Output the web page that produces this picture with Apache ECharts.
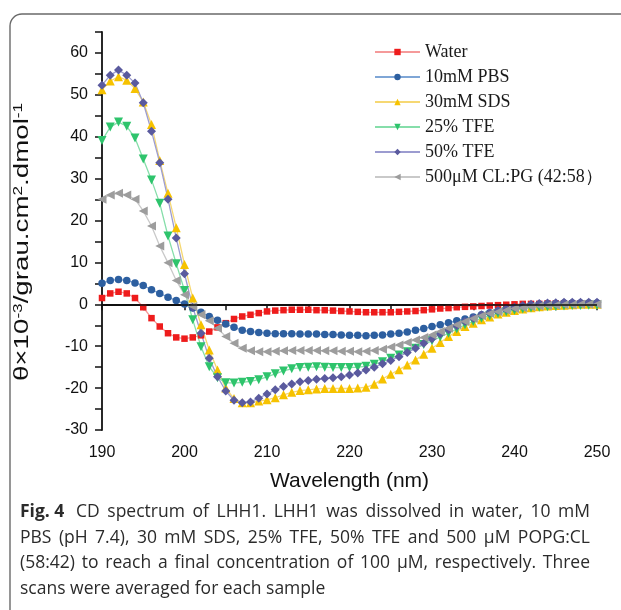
<!DOCTYPE html>
<html>
<head>
<meta charset="utf-8">
<script src="https://cdn.jsdelivr.net/npm/echarts@6/dist/echarts.min.js"></script>
<style>
  html, body { margin: 0; padding: 0; background: #fff; }
  #chart { width: 621px; height: 610px; }
</style>
</head>
<body>
<div id="chart"></div>
<script>
// wavelength (nm), 1 nm steps
const wavelength = [190,191,192,193,194,195,196,197,198,199,200,201,202,203,204,205,206,207,208,209,
  210,211,212,213,214,215,216,217,218,219,220,221,222,223,224,225,226,227,228,229,
  230,231,232,233,234,235,236,237,238,239,240,241,242,243,244,245,246,247,248,249,250]

const water = [1.5,2.6,3.0,2.6,1.5,-0.7,-3.3,-5.3,-6.9,-7.9,-8.2,-7.9,-7.4,-6.5,-5.5,-4.5,-3.5,-2.9,-2.5,-2.1,
  -1.7,-1.5,-1.4,-1.3,-1.3,-1.3,-1.4,-1.4,-1.5,-1.6,-1.7,-1.8,-1.9,-1.9,-1.9,-1.9,-1.8,-1.7,-1.6,-1.4,
  -1.2,-1.0,-0.9,-0.7,-0.6,-0.5,-0.4,-0.3,-0.2,-0.1,0.0,0.1,0.1,0.1,0.2,0.2,0.2,0.2,0.2,0.2,0.2]

const pbs = [5.0,5.7,5.9,5.7,5.1,4.5,3.5,2.6,1.7,0.9,0.1,-0.9,-1.9,-2.9,-3.8,-4.7,-5.5,-6.2,-6.5,-6.7,
  -6.9,-7.0,-7.0,-7.0,-7.1,-7.1,-7.1,-7.2,-7.2,-7.3,-7.4,-7.4,-7.5,-7.4,-7.3,-7.1,-6.9,-6.6,-6.2,-5.8,
  -5.3,-4.9,-4.4,-3.9,-3.5,-3.0,-2.5,-2.0,-1.6,-1.2,-0.8,-0.5,-0.2,0.0,0.1,0.2,0.3,0.3,0.3,0.3,0.3]

const sds = [51.2,53.3,54.3,53.5,51.5,48.3,42.9,34.3,26.5,18.3,9.5,1.5,-4.9,-10.9,-15.7,-20.0,-22.5,-23.5,-23.5,-23.1,
  -22.8,-22.3,-21.6,-21.0,-20.6,-20.4,-20.2,-20.1,-20.1,-20.1,-20.1,-20.0,-19.8,-19.1,-17.8,-16.7,-15.6,-14.5,-13.3,-11.9,
  -10.5,-9.1,-7.7,-6.5,-5.3,-4.5,-3.7,-3.0,-2.3,-1.9,-1.5,-1.1,-0.8,-0.6,-0.4,-0.3,-0.2,-0.1,0.0,0.0,0.0]

const tfe25 = [39.1,42.3,43.5,42.5,39.7,34.7,29.7,24.1,16.3,9.7,3.3,-3.7,-10.1,-14.9,-17.5,-18.7,-18.8,-18.6,-18.4,-18.0,
  -17.3,-16.6,-15.9,-15.4,-15.1,-15.0,-14.9,-15.0,-15.1,-15.1,-15.1,-15.0,-14.8,-14.3,-13.7,-12.9,-12.1,-11.3,-10.5,-9.6,
  -8.7,-7.8,-6.9,-5.9,-4.9,-4.1,-3.3,-2.7,-2.2,-1.8,-1.4,-1.1,-0.9,-0.7,-0.6,-0.5,-0.4,-0.3,-0.3,-0.2,-0.2]

const tfe50 = [52.3,54.7,55.9,54.7,52.8,48.1,41.3,33.8,25.1,15.8,7.3,-0.7,-6.9,-12.9,-17.3,-20.7,-22.9,-23.5,-23.3,-22.4,
  -21.4,-20.4,-19.6,-19.0,-18.5,-18.2,-17.9,-17.7,-17.5,-17.3,-16.9,-16.4,-15.7,-15.0,-14.2,-13.4,-12.5,-11.5,-10.5,-9.3,
  -8.2,-7.1,-6.1,-5.1,-4.1,-3.3,-2.5,-2.0,-1.5,-1.1,-0.7,-0.3,0.0,0.2,0.3,0.4,0.5,0.5,0.5,0.5,0.5]

const clpg = [25.1,26.1,26.5,26.1,25.1,22.3,18.7,13.9,9.9,5.7,2.3,-0.5,-2.5,-3.9,-5.7,-7.7,-9.3,-10.5,-11.1,-11.3,
  -11.3,-11.2,-11.1,-11.0,-11.0,-11.0,-11.0,-11.1,-11.1,-11.2,-11.2,-11.3,-11.2,-11.0,-10.7,-10.2,-9.7,-9.1,-8.5,-7.9,
  -7.3,-6.5,-5.7,-4.9,-4.1,-3.4,-2.7,-2.2,-1.8,-1.4,-1.0,-0.8,-0.6,-0.4,-0.3,-0.2,-0.1,-0.1,0.0,0.0,0.0]

const seriesNames = ['Water', '10mM PBS', '30mM SDS', '25% TFE', '50% TFE', '500μM CL:PG (42:58）']

const captionLead = 'Fig. 4'
const captionLines = [
  'CD spectrum of LHH1. LHH1 was dissolved in water, 10 mM',
  'PBS (pH 7.4), 30 mM SDS, 25% TFE, 50% TFE and 500 µM POPG:CL',
  '(58:42) to reach a final concentration of 100 µM, respectively. Three',
  'scans were averaged for each sample'
]

const chart = echarts.init(document.getElementById('chart'))

const toPoints = vals => wavelength.map((w, i) => [w, vals[i]])

// marker colour, line colour, symbol, rotate, size
const looks = [
  { mark: '#ee1c1c', line: '#f59a9a', symbol: 'rect', rotate: 0, size: 6.5 },
  { mark: '#2d5fa0', line: '#7fa6d6', symbol: 'circle', rotate: 0, size: 7.5 },
  { mark: '#f6c200', line: '#f6d873', symbol: 'triangle', rotate: 0, size: 9 },
  { mark: '#2ec46c', line: '#86deaa', symbol: 'triangle', rotate: 180, size: 9 },
  { mark: '#5a5a9e', line: '#9c9cd0', symbol: 'diamond', rotate: 0, size: 9 },
  { mark: '#9d9d9d', line: '#c9c9c9', symbol: 'triangle', rotate: 90, size: 9 }
]

const allValues = [water, pbs, sds, tfe25, tfe50, clpg]

const series = allValues.map((vals, i) => ({
  name: seriesNames[i],
  type: 'line',
  data: toPoints(vals),
  symbol: looks[i].symbol,
  symbolRotate: looks[i].rotate,
  symbolSize: looks[i].size,
  showAllSymbol: true,
  lineStyle: { color: looks[i].line, width: 1.3 },
  itemStyle: { color: looks[i].mark },
  emphasis: { disabled: true },
  animation: false
}))

// zero line
series[0].markLine = {
  silent: true,
  symbol: 'none',
  label: { show: false },
  lineStyle: { color: '#111', type: 'solid', width: 1.5 },
  data: [{ yAxis: 0 }],
  animation: false
}

const axisFont = 'Liberation Sans, Arial, sans-serif'

// caption is justified in the source, so place it word by word
const capSize = 17.5
const capLeft = 20
const capRight = 590
const capFamily = '"Open Sans", sans-serif'
const measureCtx = document.createElement('canvas').getContext('2d')
const measure = (s, bold) => {
  measureCtx.font = (bold ? 'bold ' : '') + capSize + 'px ' + capFamily
  return measureCtx.measureText(s).width
}
const captionGraphics = []
captionLines.forEach((line, li) => {
  const words = line.split(' ').map(t => ({ t, b: false, pad: 0 }))
  if (li === 0) words.unshift({ t: captionLead, b: true, pad: 4 })
  const widths = words.map(w => measure(w.t, w.b) + w.pad)
  const total = widths.reduce((a, b) => a + b, 0)
  const isLast = li === captionLines.length - 1
  const gap = isLast ? measure(' ', false) : (capRight - capLeft - total) / (words.length - 1)
  let x = capLeft
  words.forEach((w, i) => {
    captionGraphics.push({
      type: 'text',
      x,
      y: 512 + li * 25.7,
      style: {
        text: w.t,
        font: (w.b ? 'bold ' : '') + capSize + 'px ' + capFamily,
        fill: '#2b2b2b',
        align: 'left',
        verticalAlign: 'middle'
      },
      silent: true
    })
    x += widths[i] + gap
  })
})

const option = {
  backgroundColor: '#fff',
  animation: false,
  grid: { left: 102, right: 24, top: 32, bottom: 180 },
  legend: {
    orient: 'vertical',
    left: 369,
    top: 38,
    itemWidth: 45,
    itemHeight: 8,
    itemGap: 7,
    textStyle: { fontFamily: 'Liberation Serif, Times New Roman, serif', fontSize: 18, color: '#1a1a1a' },
    data: seriesNames
  },
  xAxis: {
    type: 'value',
    min: 190,
    max: 250,
    interval: 5,
    name: 'Wavelength (nm)',
    nameLocation: 'middle',
    nameGap: 41,
    nameTextStyle: { fontFamily: axisFont, fontSize: 21, color: '#111' },
    axisLine: { lineStyle: { color: '#111', width: 1.8 } },
    axisTick: { inside: false, length: 6, lineStyle: { color: '#111', width: 1.5 } },
    axisLabel: {
      margin: 15,
      fontFamily: axisFont,
      fontSize: 16,
      color: '#111',
      formatter: v => (v % 10 === 0 ? String(v) : '')
    },
    splitLine: { show: false }
  },
  yAxis: {
    type: 'value',
    min: -30,
    max: 65,
    interval: 5,
    axisLine: { show: true, lineStyle: { color: '#111', width: 1.8 } },
    axisTick: { show: true, inside: false, length: 7, lineStyle: { color: '#111', width: 1.5 } },
    axisLabel: {
      margin: 14,
      fontFamily: axisFont,
      fontSize: 16,
      color: '#111',
      formatter: v => (v % 10 === 0 ? String(v) : '')
    },
    splitLine: { show: false }
  },
  graphic: [
    {
      type: 'rect',
      shape: { x: 10, y: 14, width: 680, height: 700, r: 12 },
      style: { fill: 'none', stroke: '#6a6a6a', lineWidth: 1.4 },
      silent: true
    },
    {
      type: 'text',
      x: 22,
      y: 242,
      rotation: Math.PI / 2,
      scaleX: 1.32,
      style: {
        text: 'θ×10{s|-3}/grau.cm{s|2}.dmol{s|-1}',
        font: '21px ' + axisFont,
        fill: '#111',
        align: 'center',
        verticalAlign: 'middle',
        rich: { s: { fontSize: 13, fontFamily: axisFont, verticalAlign: 'top', fill: '#111' } }
      },
      silent: true
    },
    ...captionGraphics
  ],
  series
}

chart.setOption(option)
</script>
</body>
</html>
